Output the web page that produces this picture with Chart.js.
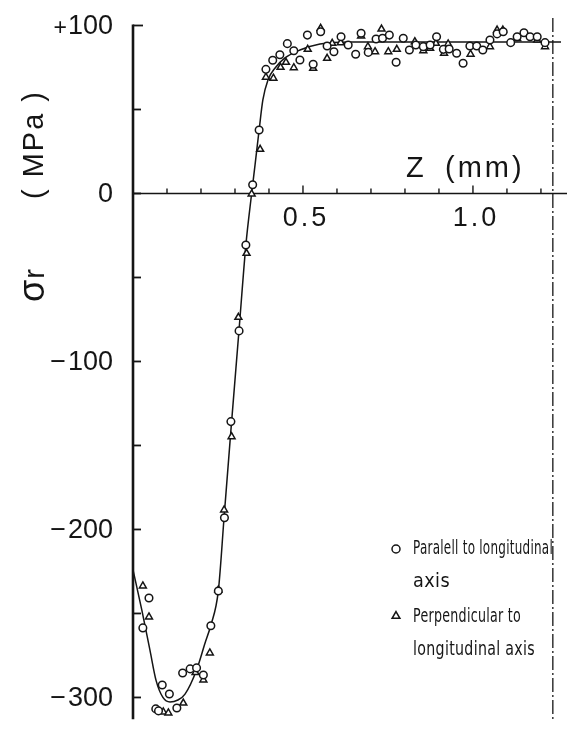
<!DOCTYPE html>
<html>
<head>
<meta charset="utf-8">
<script src="https://cdn.jsdelivr.net/npm/chart.js@4.4.0/dist/chart.umd.min.js"></script>
<style>
  body { margin: 0; background: #fff; }
</style>
</head>
<body>
<canvas id="stressChart" width="569" height="734"></canvas>
<script>
// Z (mm) / sigma_r (MPa)
const parallelZ = [0.029, 0.047, 0.067, 0.075, 0.086, 0.107, 0.129, 0.146, 0.168, 0.187, 0.207, 0.229, 0.251, 0.269, 0.288, 0.312, 0.332, 0.352, 0.371, 0.391, 0.411, 0.432, 0.454, 0.473, 0.491, 0.513, 0.530, 0.552, 0.571, 0.591, 0.612, 0.633, 0.655, 0.671, 0.692, 0.715, 0.734, 0.754, 0.774, 0.795, 0.813, 0.832, 0.854, 0.874, 0.893, 0.913, 0.930, 0.952, 0.971, 0.991, 1.011, 1.029, 1.050, 1.071, 1.089, 1.111, 1.130, 1.150, 1.168, 1.189, 1.212];
const parallelStress = [-258.6, -240.8, -306.8, -308, -292.6, -297.9, -306.3, -285.4, -283, -282.4, -286.6, -257.3, -236.6, -193, -135.8, -81.8, -30.7, 5.2, 37.8, 73.9, 79.3, 82.6, 89.2, 85, 79.5, 94.3, 76.9, 96.3, 87.8, 84.4, 93.3, 88.4, 82.9, 95.4, 84, 92, 92.4, 94.3, 78.1, 92.4, 85.4, 88.4, 87.4, 88.4, 93.3, 85.8, 86, 83.5, 77.5, 87.8, 87.8, 85.4, 91.4, 95, 96.3, 89.8, 93.3, 95.7, 93.3, 93.3, 89.8];

const perpZ = [0.029, 0.047, 0.089, 0.104, 0.148, 0.184, 0.207, 0.226, 0.251, 0.268, 0.290, 0.310, 0.334, 0.349, 0.374, 0.391, 0.413, 0.434, 0.450, 0.473, 0.514, 0.530, 0.552, 0.571, 0.586, 0.611, 0.671, 0.691, 0.712, 0.731, 0.751, 0.776, 0.829, 0.854, 0.874, 0.891, 0.915, 0.927, 0.993, 1.050, 1.071, 1.088, 1.130, 1.189, 1.212];
const perpStress = [-233.6, -252.1, -308.6, -309.2, -303.3, -285.2, -289.6, -273.5, -236, -188.4, -144.8, -73.7, -35.6, -0.3, 26.3, 69.2, 68.6, 75.1, 78.1, 74.9, 85.8, 74.5, 98.3, 80.5, 89.4, 89.8, 93.8, 87.4, 84.4, 97.9, 84.4, 85.8, 90.4, 85, 86.4, 89.4, 83.5, 89, 82.9, 87.4, 97.3, 97.3, 92.3, 91.4, 87.4];

const fitZ = [0, 0.026, 0.05, 0.068, 0.088, 0.109, 0.132, 0.153, 0.187, 0.212, 0.229, 0.251, 0.268, 0.288, 0.312, 0.332, 0.349, 0.359, 0.371, 0.382, 0.397, 0.418, 0.447, 0.491, 0.55, 0.638, 0.785, 1.0, 1.259];
const fitStress = [-224, -248, -272, -290, -300, -302.7, -301.5, -298, -283.6, -267.6, -257, -236.6, -192.6, -141, -81, -30.7, 0, 17, 37.8, 55.7, 67.6, 74.7, 80.7, 85.4, 89, 90.2, 90.2, 90.2, 90.2];

const yTickValues = [100, 0, -100, -200, -300];
const yTickSigns = ["+", "", "\u2212", "\u2212", "\u2212"];
const yTickLabels = ["100", "0", "100", "200", "300"];
const xTickValues = [0.5, 1.0];
const xTickLabels = ["0.5", "1.0"];
const edgeZ = 1.235;

const FONT = '"Liberation Sans", Arial, sans-serif';
const NARROW = '"Liberation Sans Narrow", "DejaVu Sans Condensed", "Liberation Sans", sans-serif';
const INK = "#151515";

const toPoints = (xs, ys) => xs.map((x, i) => ({ x: x, y: ys[i] }));

const paperAxes = {
  id: "paperAxes",
  beforeDraw(chart) {
    const ctx = chart.ctx;
    ctx.save();
    ctx.fillStyle = "#fff";
    ctx.fillRect(0, 0, chart.width, chart.height);
    ctx.restore();
  },
  beforeDatasetsDraw(chart) {
    const { ctx, scales: { x, y } } = chart;
    const x0 = x.getPixelForValue(0);
    const y0 = y.getPixelForValue(0);
    ctx.save();
    ctx.strokeStyle = INK;

    // vertical axis with inward ticks
    ctx.lineWidth = 2.6;
    ctx.beginPath();
    ctx.moveTo(x0, y.getPixelForValue(100) - 1);
    ctx.lineTo(x0, y.bottom);
    ctx.stroke();
    ctx.lineWidth = 1.8;
    for (let v = 100; v >= -300; v -= 50) {
      const py = y.getPixelForValue(v);
      ctx.beginPath();
      ctx.moveTo(x0, py);
      ctx.lineTo(x0 + (v === 100 ? 10 : 8), py);
      ctx.stroke();
    }

    // horizontal axis at zero stress, ticks pointing up
    ctx.lineWidth = 1.6;
    ctx.beginPath();
    ctx.moveTo(x0, y0);
    ctx.lineTo(x.right + 6, y0);
    ctx.stroke();
    ctx.lineWidth = 1.4;
    for (let i = 1; i <= 12; i++) {
      const px = x.getPixelForValue(i / 10);
      ctx.beginPath();
      ctx.moveTo(px, y0);
      ctx.lineTo(px, y0 - (i % 5 === 0 ? 8 : 5));
      ctx.stroke();
    }

    // dash-dot edge line
    const ex = x.getPixelForValue(edgeZ);
    ctx.lineWidth = 1.3;
    ctx.setLineDash([14, 3, 2, 3]);
    ctx.beginPath();
    ctx.moveTo(ex, 18);
    ctx.lineTo(ex, y.bottom + 2);
    ctx.stroke();
    ctx.restore();
  },
  afterDraw(chart) {
    const { ctx, scales: { x, y } } = chart;
    const y0 = y.getPixelForValue(0);
    ctx.save();
    ctx.fillStyle = INK;
    ctx.strokeStyle = INK;

    // y tick labels (sign drawn separately, the "+" is small in the original)
    ctx.textAlign = "right";
    ctx.textBaseline = "middle";
    yTickValues.forEach((v, i) => {
      const py = y.getPixelForValue(v) + 1;
      ctx.font = "27px " + FONT;
      ctx.fillText(yTickLabels[i], 113, py);
      const w = ctx.measureText(yTickLabels[i]).width;
      if (yTickSigns[i] === "+") {
        ctx.font = "23px " + FONT;
        ctx.fillText("+", 113 - w - 1, py + 2);
      } else if (yTickSigns[i]) {
        ctx.fillText(yTickSigns[i], 113 - w - 2, py);
      }
    });

    // x tick labels below the axis
    ctx.font = "27px " + FONT;
    ctx.textAlign = "center";
    ctx.letterSpacing = "3px";
    xTickValues.forEach((v, i) => {
      ctx.fillText(xTickLabels[i], x.getPixelForValue(v) + 3, y0 + 25);
    });

    // x axis title above the axis
    ctx.textAlign = "left";
    ctx.letterSpacing = "0px";
    ctx.font = "29px " + FONT;
    ctx.fillText("Z", 406, y0 - 24);
    ctx.letterSpacing = "3px";
    ctx.fillText("(mm)", 445, y0 - 24);
    ctx.letterSpacing = "0px";

    // y axis title, rotated (text runs upward)
    ctx.save();
    ctx.rotate(-Math.PI / 2);
    ctx.textBaseline = "alphabetic";
    ctx.textAlign = "left";
    ctx.font = "36px " + FONT;
    ctx.fillText("\u03c3", -302, 44);
    const sigmaW = ctx.measureText("\u03c3").width;
    ctx.font = "29px " + FONT;
    ctx.fillText("r", -302 + sigmaW + 1, 44);
    ctx.textAlign = "right";
    ctx.letterSpacing = "2px";
    ctx.fillText("( MPa )", -90, 43);
    ctx.letterSpacing = "0px";
    ctx.restore();

    // legend
    ctx.font = "20px " + NARROW;
    ctx.textAlign = "left";
    ctx.textBaseline = "middle";
    ctx.fillStyle = "#fff";
    ctx.lineWidth = 1.5;
    Chart.helpers.drawPoint(ctx, { pointStyle: "circle", radius: 4, rotation: 0, borderWidth: 1.5 }, 396, 549);
    Chart.helpers.drawPoint(ctx, { pointStyle: "triangle", radius: 4.5, rotation: 0, borderWidth: 1.5 }, 396, 616);
    ctx.fillStyle = INK;
    ctx.letterSpacing = "0.4px";
    ctx.fillText("Paralell to longitudinal", 413, 549, 140);
    ctx.fillText("axis", 413, 582, 37);
    ctx.fillText("Perpendicular to", 413, 617, 108);
    ctx.fillText("longitudinal axis", 413, 650, 122);
    ctx.restore();
  }
};

const ctx = document.getElementById("stressChart").getContext("2d");
new Chart(ctx, {
  type: "scatter",
  data: {
    datasets: [
      {
        label: "Paralell to longitudinal axis",
        data: toPoints(parallelZ, parallelStress),
        pointStyle: "circle",
        pointRadius: 3.8,
        pointBorderWidth: 1.5,
        pointBackgroundColor: "#fff",
        pointBorderColor: INK,
        clip: false,
        order: 1,
      },
      {
        label: "Perpendicular to longitudinal axis",
        data: toPoints(perpZ, perpStress),
        pointStyle: "triangle",
        pointRadius: 4,
        pointBorderWidth: 1.5,
        pointBackgroundColor: "#fff",
        pointBorderColor: INK,
        clip: false,
        order: 1,
      },
      {
        label: "fit",
        type: "line",
        data: toPoints(fitZ, fitStress),
        borderColor: INK,
        borderWidth: 1.5,
        pointRadius: 0,
        cubicInterpolationMode: "monotone",
        fill: false,
        clip: false,
        order: 2,
      },
    ],
  },
  options: {
    responsive: false,
    animation: false,
    events: [],
    layout: {
      padding: { left: 133, right: 8, top: 25.5, bottom: 14.7 },
    },
    scales: {
      x: { type: "linear", min: 0, max: 1.259, display: false },
      y: { type: "linear", min: -313, max: 100, display: false },
    },
    plugins: {
      legend: { display: false },
      tooltip: { enabled: false },
    },
  },
  plugins: [paperAxes],
});
</script>
</body>
</html>
